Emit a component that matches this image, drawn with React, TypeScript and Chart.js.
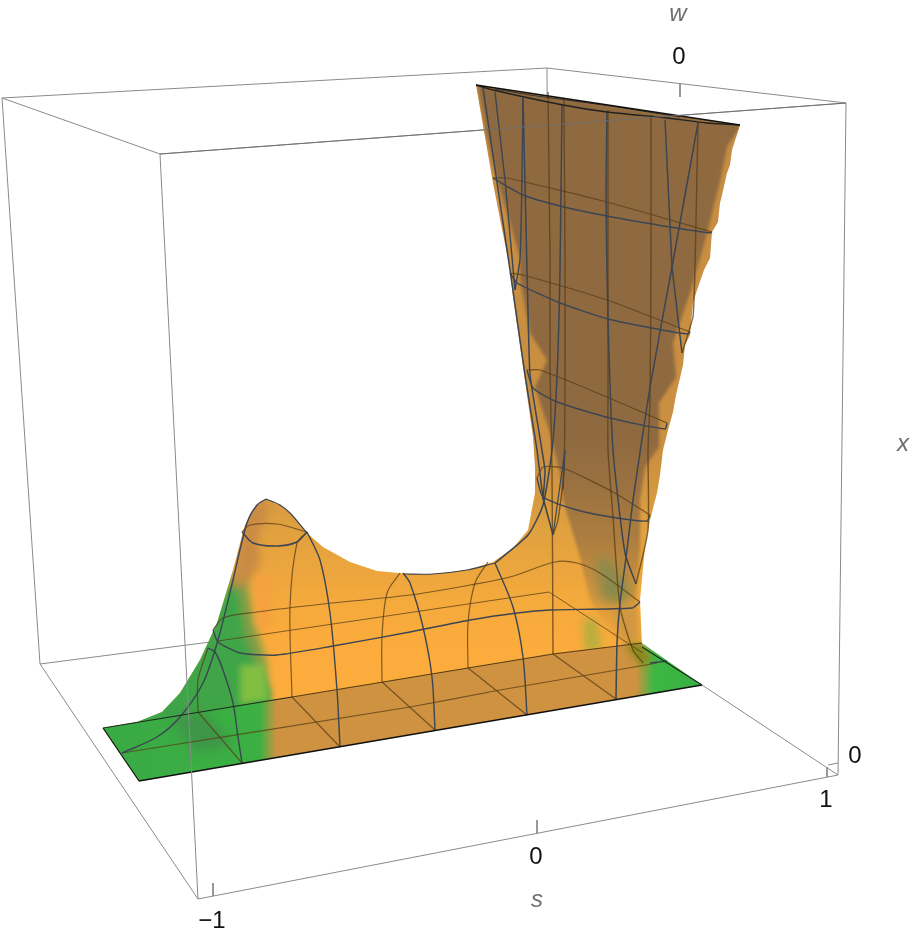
import React, { useEffect, useRef } from "react";
import { Chart, registerables } from "chart.js";

type P = [number, number];

// ---- bounding box (picture coordinates of the projected 3D frame)
const boxTopBack: P[] = [[2, 98], [547, 68], [846, 103], [160, 154], [2, 98]];
const boxLeftBack: P[] = [[2, 98], [40, 664]];
const boxRightEdge: P[] = [[846, 103], [838, 775]];
const boxBottomLeft: P[] = [[40, 664], [198, 899]];
const boxBottomFront: P[] = [[198, 899], [838, 775]];
const boxBottomRight: P[] = [[702, 685], [838, 775]];
const boxBackBottomA: P[] = [[40, 664], [218, 641]];
const boxFrontVertical: P[] = [[160, 154], [198, 899]];
const boxBackVertical: P[] = [[547, 68], [549, 592]];
const boxSeenThroughA: P[] = [[218, 641], [549, 592], [643, 653]];
const tickS: P[][] = [[[213, 883], [213, 896]], [[537, 820], [537, 834]], [[827, 767], [827, 777]]];
const tickW: P[] = [[680, 84], [680, 97]];
const tickX: P[] = [[838, 763], [828, 765]];

// ---- surface outlines
const surfaceOutline: P[] = [
  [103, 728], [137, 722], [162, 712], [180, 693], [200, 660], [217, 623], [233, 570], [245, 525], [257, 505],
  [266, 499], [280, 505], [290, 513], [307, 533], [323, 547], [350, 562], [377, 571], [410, 574], [433, 574],
  [467, 570], [493, 562], [513, 548], [528, 530], [535, 493], [535, 467], [533, 437], [523, 367], [513, 297],
  [510, 270], [493, 183], [476, 85], [740, 125], [732, 150], [730, 165], [727, 173], [722, 195], [720, 203],
  [718, 222], [712, 232], [710, 258], [704, 270], [697, 290], [693, 303], [690, 335], [685, 345], [683, 365],
  [676, 395], [673, 412], [668, 430], [663, 450], [660, 475], [657, 493], [650, 520], [645, 547], [640, 600],
  [642, 647], [702, 685], [139, 781], [103, 728],
];
const plateOutline: P[] = [[103, 728], [292, 697], [553, 654], [642, 643], [702, 685], [139, 781], [103, 728]];
const trumpetInner: P[] = [
  [478, 86], [487, 137], [497, 180], [507, 213], [520, 257], [520, 280], [530, 333], [547, 360], [535, 387],
  [550, 433], [560, 473], [563, 500], [580, 557], [590, 600], [615, 640], [638, 640], [636, 597], [640, 550],
  [640, 500], [645, 467], [659, 447], [659, 403], [676, 377], [673, 343], [690, 293], [706, 237], [712, 213],
  [721, 177], [727, 147], [741, 125], [478, 86],
];
const grayGreenLeft: P[] = [[228, 575], [245, 575], [255, 625], [266, 660], [268, 700], [240, 700]];
const greenLeftPatch: P[] = [
  [100, 745], [200, 650], [225, 590], [236, 580], [240, 610], [245, 640], [255, 665], [270, 690], [272, 720], [110, 790],
];
const limePatch: P[] = [[240, 665], [264, 664], [269, 700], [240, 704]];
const brownLeftPatch: P[] = [[236, 560], [243, 520], [262, 497], [268, 510], [258, 535], [260, 565], [245, 585], [232, 590]];
const orangeLeftPatch: P[] = [[258, 575], [272, 575], [270, 630], [256, 625]];
const grayGreenPatch: P[] = [[596, 555], [612, 560], [632, 590], [625, 605], [600, 600]];
const limeRightPatch: P[] = [[583, 620], [596, 618], [602, 648], [585, 652]];
const rightDarkPatch: P[] = [[612, 610], [636, 606], [640, 640], [622, 645]];
const oliveCorner: P[] = [[625, 645], [640, 642], [652, 660], [640, 666]];
const plateDarkGreen: P[] = [[170, 718], [205, 712], [232, 745], [195, 752]];

// ---- mesh behind the surface (brown, seen through it)
const ringLeftBack: P[] = [
  [213, 630], [223, 618], [257, 612], [323, 604], [410, 595], [470, 585], [510, 577], [555, 562], [577, 563],
  [600, 573], [640, 602],
];
const archBack1: P[] = [[208, 648], [198, 680], [198, 712]];
const archBack2: P[] = [[307, 532], [297, 543], [290, 607], [292, 697]];
const archBack3: P[] = [[400, 573], [387, 593], [382, 637], [382, 682]];
const archBack4: P[] = [[488, 562], [475, 583], [468, 623], [468, 668]];
const humpRingBack: P[] = [[242, 532], [250, 525], [277, 524], [307, 532]];
const ringOneBack: P[] = [[493, 178], [507, 178], [607, 202], [712, 232]];
const ringTwoBack: P[] = [[510, 273], [523, 275], [607, 300], [690, 332]];
const ringThreeBack: P[] = [[527, 370], [540, 370], [607, 397], [667, 423]];
const ringFourBack: P[] = [[537, 478], [543, 467], [563, 468], [613, 492], [650, 515]];
const stemBack1: P[] = [[548, 92], [550, 260], [550, 370], [552, 470], [553, 654]];
const stemBack2: P[] = [[564, 100], [565, 260], [565, 370], [564, 470], [558, 520], [553, 535]];
const stemBack3: P[] = [[608, 110], [608, 260], [608, 400], [608, 450], [613, 517], [620, 607], [633, 650], [643, 663]];
const stemBack4: P[] = [[651, 115], [651, 260], [650, 400], [648, 450], [648, 530], [636, 584]];
const stemBack5: P[] = [[698, 123], [695, 267], [693, 317], [682, 353]];
const plateLineMid: P[] = [[122, 753], [410, 707], [500, 690], [617, 670], [657, 663]];
const plateCross: P[][] = [
  [[198, 712], [242, 763]], [[292, 697], [340, 747]], [[382, 682], [435, 730]],
  [[468, 668], [527, 715]], [[553, 654], [616, 699]],
];
const plateBackEdge: P[] = [[292, 697], [553, 654], [642, 643]];

// ---- mesh in front of the surface (dark slate)
const archFront1: P[] = [[242, 763], [238, 737], [233, 703], [223, 670], [215, 652], [208, 648]];
const archFront2: P[] = [[340, 747], [337, 690], [330, 613], [320, 560], [307, 532]];
const archFront3: P[] = [[435, 730], [432, 677], [423, 627], [410, 583], [403, 573]];
const archFront4: P[] = [[527, 715], [523, 657], [513, 607], [495, 563]];
const archLeft: P[] = [[122, 753], [157, 737], [180, 717], [203, 683], [218, 640], [233, 580], [247, 523], [257, 505], [266, 499]];
const humpRingFront: P[] = [[242, 532], [253, 543], [277, 546], [297, 542], [307, 532]];
const ringLeftFront: P[] = [
  [213, 630], [218, 642], [240, 653], [277, 655], [333, 646], [410, 632], [470, 620], [517, 613], [550, 610],
  [632, 608], [640, 602],
];
const ridgeHump: P[] = [[266, 499], [280, 505], [290, 513], [307, 533]];
const ridgeMiddle: P[] = [[403, 574], [433, 574], [467, 570], [495, 563]];
const ringOneFront: P[] = [[493, 178], [523, 195], [560, 206], [607, 216], [670, 227], [710, 233], [712, 232]];
const ringTwoFront: P[] = [[510, 273], [517, 283], [560, 303], [608, 319], [662, 330], [688, 334], [690, 332]];
const ringThreeFront: P[] = [[527, 370], [533, 388], [557, 402], [610, 418], [665, 429], [667, 423]];
const ringFourFront: P[] = [[537, 478], [543, 497], [577, 510], [617, 518], [647, 521], [650, 515]];
const stemFront1: P[] = [[562, 105], [560, 270], [557, 377], [552, 450], [543, 505], [528, 535], [495, 563]];
const stemFront2: P[] = [[607, 112], [606, 200], [608, 320], [613, 450], [625, 553], [636, 584]];
const stemFront3: P[] = [[698, 123], [672, 267], [650, 387], [633, 500], [627, 550], [620, 603], [617, 643], [616, 699]];
const stemFront4: P[] = [[665, 120], [672, 267], [682, 353]];
const stemLeft1: P[] = [[483, 88], [510, 270], [525, 375], [537, 450], [543, 497], [553, 535]];
const stemLeft2: P[] = [[523, 98], [525, 183], [527, 270], [530, 375], [545, 470], [543, 500]];
const stemLeft3: P[] = [[495, 92], [505, 180], [515, 290]];
const stemLeft4: P[] = [[523, 98], [522, 180], [520, 260], [515, 290]];
const stemSide: P[] = [[563, 490], [565, 450], [553, 535]];
const rightStub: P[] = [[650, 663], [667, 661]];

// ---- rim and plate edges (black)
const rimUpper: P[] = [[476, 85], [740, 125]];
const rimLower: P[] = [[476, 85], [493, 90], [563, 105], [607, 112], [667, 118], [707, 123], [740, 125]];
const rimInner: P[] = [[495, 89], [530, 95], [610, 106], [680, 117]];
const plateFront: P[] = [[139, 781], [702, 685]];
const plateLeft: P[] = [[103, 728], [139, 781]];
const plateRight: P[] = [[642, 647], [702, 685]];
const plateBackLeft: P[] = [[103, 728], [292, 697]];

// ---- text
const tickLabels: [string, number, number][] = [
  ["0", 679, 57], ["\u22121", 212, 921], ["0", 536, 857], ["1", 826, 800], ["0", 855, 756],
];
const axisLabels: [string, number, number][] = [["w", 678, 14], ["s", 537, 900], ["x", 903, 444]];

const softPlugin = {
  id: "softPatches",
  beforeDatasetDraw(chart: any, args: any) {
    const ds = chart.data.datasets[args.index];
    if (!ds.soft) return;
    const { ctx, scales } = chart;
    ctx.save();
    ctx.beginPath();
    surfaceOutline.forEach(([x, y], i) => {
      const px = scales.x.getPixelForValue(x);
      const py = scales.y.getPixelForValue(y);
      if (i === 0) ctx.moveTo(px, py);
      else ctx.lineTo(px, py);
    });
    ctx.closePath();
    ctx.clip();
    ctx.filter = `blur(${ds.soft}px)`;
  },
  afterDatasetDraw(chart: any, args: any) {
    if (chart.data.datasets[args.index].soft) chart.ctx.restore();
  },
};
Chart.register(softPlugin, ...registerables);

const labelPlugin = {
  id: "plotLabels",
  afterDraw(chart: any) {
    const { ctx, scales } = chart;
    ctx.save();
    ctx.textAlign = "center";
    ctx.textBaseline = "middle";
    ctx.fillStyle = "#111111";
    ctx.font = '24px "Liberation Sans"';
    tickLabels.forEach(([t, x, y]) => ctx.fillText(t, scales.x.getPixelForValue(x), scales.y.getPixelForValue(y)));
    ctx.fillStyle = "#6e6e6e";
    ctx.font = 'italic 24px "Liberation Sans"';
    axisLabels.forEach(([t, x, y]) => ctx.fillText(t, scales.x.getPixelForValue(x), scales.y.getPixelForValue(y)));
    ctx.restore();
  },
};

const pts = (a: P[]) => a.map(([x, y]) => ({ x, y }));
const stroke = (a: P[], color: string, width: number, tension = 0) => ({
  type: "scatter" as const,
  data: pts(a),
  showLine: true,
  borderColor: color,
  borderWidth: width,
  tension,
  pointRadius: 0,
  fill: false,
});
const area = (a: P[], color: any, soft = 0) => ({
  type: "scatter" as const,
  data: pts(a),
  showLine: true,
  borderWidth: 0,
  borderColor: "rgba(0,0,0,0)",
  backgroundColor: color,
  pointRadius: 0,
  fill: "shape",
  soft,
});

const GRAY = "#8a8a8a";
const BROWN = "rgba(88,62,24,0.75)";
const SLATE = "#3c4552";

export default function App() {
  const ref = useRef<HTMLCanvasElement>(null);
  useEffect(() => {
    const canvas = ref.current!;
    const c = canvas.getContext("2d")!;
    const bodyFill = c.createLinearGradient(0, 85, 0, 650);
    bodyFill.addColorStop(0, "#C68C42");
    bodyFill.addColorStop(0.66, "#CB9040");
    bodyFill.addColorStop(0.78, "#DFA03F");
    bodyFill.addColorStop(0.92, "#F5AA3C");
    bodyFill.addColorStop(1, "#FCAC3C");
    const brownFill = c.createLinearGradient(0, 440, 0, 640);
    brownFill.addColorStop(0, "rgba(143,106,64,1)");
    brownFill.addColorStop(0.5, "rgba(143,106,64,0.65)");
    brownFill.addColorStop(1, "rgba(143,106,64,0)");
    const plateFill = c.createLinearGradient(103, 0, 702, 0);
    plateFill.addColorStop(0, "#3AAA45");
    plateFill.addColorStop(0.262, "#3CB043");
    plateFill.addColorStop(0.29, "#CE9240");
    plateFill.addColorStop(0.89, "#CE9240");
    plateFill.addColorStop(0.92, "#3CB842");
    plateFill.addColorStop(1, "#3AAE44");

    // Chart.js paints the first dataset last, so the back-to-front list is reversed.
    const backToFront = [
      stroke(boxTopBack, GRAY, 1),
      stroke(boxLeftBack, GRAY, 1),
      stroke(boxRightEdge, GRAY, 1),
      stroke(boxBottomLeft, GRAY, 1),
      stroke(boxBottomFront, GRAY, 1),
      stroke(boxBottomRight, GRAY, 1),
      stroke(boxBackBottomA, GRAY, 1),
      stroke(boxBackVertical, GRAY, 1),
      ...tickS.map((t) => stroke(t, GRAY, 1)),
      stroke(tickW, GRAY, 1),
      stroke(tickX, GRAY, 1),

      area(surfaceOutline, bodyFill),
      area(grayGreenLeft, "#7A9E48", 4),
      area(greenLeftPatch, "#3FA548", 3),
      area(limePatch, "#82BE42", 3),
      area(brownLeftPatch, "#C98A45", 4),
      area(orangeLeftPatch, "#F5A040", 4),
      area(trumpetInner, brownFill, 1.5),
      area(grayGreenPatch, "#8B8A4C", 6),
      area(limeRightPatch, "#B5AE3E", 4),
      area(rightDarkPatch, "#CF9642", 4),
      area(plateOutline, plateFill),
      area(plateDarkGreen, "#3E9448", 6),
      area(oliveCorner, "#8A8A1E", 3),

      stroke(boxSeenThroughA, BROWN, 1),
      stroke(ringLeftBack, BROWN, 1.2, 0.3),
      stroke(archBack1, BROWN, 1.2, 0.3),
      stroke(archBack2, BROWN, 1.2, 0.3),
      stroke(archBack3, BROWN, 1.2, 0.3),
      stroke(archBack4, BROWN, 1.2, 0.3),
      stroke(humpRingBack, BROWN, 1.2, 0.3),
      stroke(ringOneBack, BROWN, 1.2, 0.2),
      stroke(ringTwoBack, BROWN, 1.2, 0.2),
      stroke(ringThreeBack, BROWN, 1.2, 0.2),
      stroke(ringFourBack, BROWN, 1.2, 0.2),
      stroke(stemBack1, BROWN, 1.4, 0.2),
      stroke(stemBack2, BROWN, 1.4, 0.2),
      stroke(stemBack3, BROWN, 1.4, 0.2),
      stroke(stemBack4, BROWN, 1.4, 0.2),
      stroke(stemBack5, BROWN, 1.4, 0.1),
      stroke(plateLineMid, BROWN, 1.2, 0.1),
      ...plateCross.map((l) => stroke(l, BROWN, 1.2)),
      stroke(plateBackEdge, "rgba(70,50,15,0.9)", 1.2),

      stroke(archFront1, SLATE, 1.4, 0.3),
      stroke(archFront2, SLATE, 1.4, 0.3),
      stroke(archFront3, SLATE, 1.4, 0.3),
      stroke(archFront4, SLATE, 1.4, 0.3),
      stroke(archLeft, SLATE, 1.4, 0.3),
      stroke(humpRingFront, SLATE, 1.4, 0.3),
      stroke(ringLeftFront, SLATE, 1.4, 0.2),
      stroke(ridgeHump, SLATE, 1.2, 0.3),
      stroke(ridgeMiddle, SLATE, 1.2, 0.3),
      stroke(ringOneFront, SLATE, 1.4, 0.2),
      stroke(ringTwoFront, SLATE, 1.4, 0.2),
      stroke(ringThreeFront, SLATE, 1.4, 0.2),
      stroke(ringFourFront, SLATE, 1.4, 0.2),
      stroke(stemFront1, SLATE, 1.5, 0.2),
      stroke(stemFront2, SLATE, 1.5, 0.2),
      stroke(stemFront3, SLATE, 1.5, 0.15),
      stroke(stemFront4, SLATE, 1.5),
      stroke(stemLeft1, SLATE, 1.5, 0.1),
      stroke(stemLeft2, SLATE, 1.5, 0.1),
      stroke(stemLeft3, SLATE, 1.4),
      stroke(stemLeft4, SLATE, 1.4, 0.1),
      stroke(stemSide, SLATE, 1.2),
      stroke(rightStub, SLATE, 1.5),

      stroke(rimInner, "#333333", 1, 0.2),
      stroke(rimLower, "#222222", 1.4, 0.2),
      stroke(rimUpper, "#111111", 1.6),
      stroke(plateFront, "#111111", 1.5),
      stroke(plateLeft, "#111111", 1.2),
      stroke(plateRight, "#1c2a1c", 1.2),
      stroke(plateBackLeft, "#1c2a1c", 1.2),
      stroke(boxFrontVertical, GRAY, 1),
      stroke(boxTopBack.slice(2, 4), "rgba(110,110,110,0.9)", 1),
    ];

    const chart = new Chart(canvas, {
      type: "scatter",
      data: { datasets: backToFront.reverse() as any },
      options: {
        animation: false,
        responsive: false,
        layout: { padding: 0 },
        plugins: { legend: { display: false }, tooltip: { enabled: false } },
        events: [],
        scales: {
          x: { type: "linear", min: 0, max: 914, display: false },
          y: { type: "linear", min: 0, max: 940, reverse: true, display: false },
        },
      },
      plugins: [labelPlugin],
    });
    return () => chart.destroy();
  }, []);
  return (
    <canvas
      ref={ref}
      width={914}
      height={940}
      style={{ position: "absolute", left: 0, top: 0, display: "block" }}
    />
  );
}
